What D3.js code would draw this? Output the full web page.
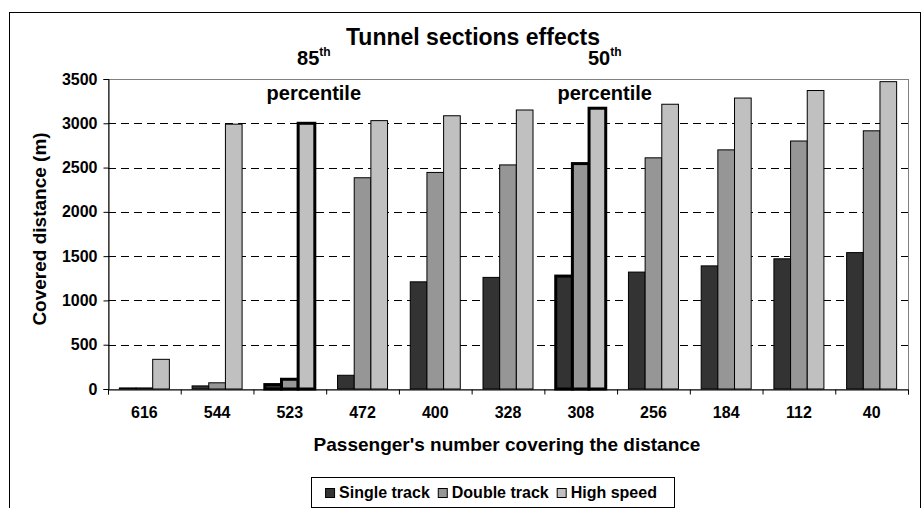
<!DOCTYPE html>
<html>
<head>
<meta charset="utf-8">
<script src="https://cdn.jsdelivr.net/npm/d3@7/dist/d3.min.js"></script>
<style>
  body { margin: 0; background: #fff; }
  text { font-family: "Liberation Sans", Arial, sans-serif; font-weight: bold; fill: #000; }
</style>
</head>
<body>
<div id="chart"></div>
<script>
let categories = ["616", "544", "523", "472", "400", "328", "308", "256", "184", "112", "40"];
let seriesNames = ["Single track", "Double track", "High speed"];
let singleTrack = [12, 35, 50, 155, 1210, 1260, 1275, 1320, 1390, 1470, 1540];
let doubleTrack = [12, 70, 110, 2385, 2445, 2530, 2545, 2610, 2700, 2800, 2915];
let highSpeed = [335, 2990, 3000, 3030, 3085, 3150, 3170, 3215, 3285, 3370, 3470];
let yTickValues = [0, 500, 1000, 1500, 2000, 2500, 3000, 3500];
let highlighted = ["523", "308"];
let annotations = [{cat: "523", num: "85"}, {cat: "308", num: "50"}];

let width = 924;
let height = 508;
let padL = 108, padR = 908, padT = 79, padB = 389;
let barColors = ["#333333", "#969696", "#c0c0c0"];
let series = [singleTrack, doubleTrack, highSpeed];

// Step 1: svg and outer chart border
let svg = d3.select("#chart")
            .append("svg")
            .attr("width", width)
            .attr("height", height);

svg.append("rect")
    .attr("x", 9.5).attr("y", 12.5)
    .attr("width", 911).attr("height", 520)
    .attr("fill", "none")
    .attr("stroke", "#000");

// Step 2: scales
let x0 = d3.scaleBand()
           .domain(categories)
           .range([padL, padR])
           .paddingInner(0.3125)
           .paddingOuter(0.15625);

let x1 = d3.scaleBand()
           .domain(d3.range(series.length))
           .range([0, x0.bandwidth()]);

let yScale = d3.scaleLinear()
               .domain([0, 3500])
               .range([padB, padT]);

let xEdges = d3.scaleLinear()
               .domain([0, categories.length])
               .range([padL, padR]);

// Step 3: plot area border and dashed grid
svg.append("rect")
    .attr("x", padL + 0.5).attr("y", padT + 0.5)
    .attr("width", padR - padL).attr("height", padB - padT)
    .attr("fill", "none")
    .attr("stroke", "#808080");

svg.append("g")
    .selectAll("line")
    .data(yTickValues.filter(d => d > 0))
    .enter().append("line")
    .attr("x1", padL).attr("x2", padR)
    .attr("y1", d => Math.round(yScale(d)) + 0.5)
    .attr("y2", d => Math.round(yScale(d)) + 0.5)
    .attr("stroke", d => d === 3500 ? "#808080" : "#000")
    .attr("stroke-dasharray", "8,5");

// Step 4: bars
let groups = svg.append("g")
    .selectAll("g")
    .data(categories)
    .enter().append("g")
    .attr("transform", d => "translate(" + x0(d) + ",0)");

groups.selectAll("rect")
    .data((c, i) => series.map((s, k) => ({cat: c, k: k, v: s[i]})))
    .enter().append("rect")
    .attr("x", d => x1(d.k))
    .attr("y", d => yScale(d.v))
    .attr("width", x1.bandwidth())
    .attr("height", d => yScale(0) - yScale(d.v))
    .attr("fill", d => barColors[d.k])
    .attr("stroke", "#000")
    .attr("stroke-width", d => highlighted.includes(d.cat) ? 3 : 1);

// Step 5: axes
let yAxis = d3.axisLeft(yScale)
              .tickValues(yTickValues)
              .tickFormat(d3.format("d"))
              .tickSize(5)
              .tickPadding(6);

svg.append("g")
    .attr("transform", "translate(" + (padL + 0.5) + ",0)")
    .call(yAxis)
    .call(g => g.selectAll("text").style("font-size", "16px"));

svg.append("g")
    .attr("transform", "translate(0," + (padB + 0.5) + ")")
    .call(d3.axisBottom(xEdges).ticks(categories.length).tickSize(5).tickFormat(""));

svg.append("g")
    .attr("transform", "translate(0," + (padB + 0.5) + ")")
    .call(d3.axisBottom(x0).tickSize(0).tickPadding(17))
    .call(g => g.select(".domain").remove())
    .call(g => g.selectAll("text").style("font-size", "16px"));

svg.selectAll(".domain").attr("stroke", "#000");

// Step 6: titles
svg.append("text")
    .attr("x", 473).attr("y", 45)
    .attr("text-anchor", "middle")
    .style("font-size", "23px")
    .text("Tunnel sections effects");

svg.append("text")
    .attr("x", 507).attr("y", 451)
    .attr("text-anchor", "middle")
    .style("font-size", "19px")
    .text("Passenger's number covering the distance");

svg.append("text")
    .attr("transform", "translate(46,229) rotate(-90)")
    .attr("text-anchor", "middle")
    .style("font-size", "19px")
    .text("Covered distance (m)");

// Step 7: percentile annotations
annotations.forEach(a => {
  let cx = x0(a.cat) + x0.bandwidth() / 2 + 24;
  let t = svg.append("text")
      .attr("x", cx).attr("y", 65)
      .attr("text-anchor", "middle")
      .style("font-size", "20px");
  t.append("tspan").text(a.num);
  t.append("tspan").attr("dy", -9).style("font-size", "12px").text("th");
  svg.append("text")
      .attr("x", cx).attr("y", 100)
      .attr("text-anchor", "middle")
      .style("font-size", "20px")
      .text("percentile");
});

// Step 8: legend
let legend = svg.append("g");
legend.append("rect")
    .attr("x", 311.5).attr("y", 477.5)
    .attr("width", 363).attr("height", 30)
    .attr("fill", "#fff")
    .attr("stroke", "#000");

let lx = 0;
let items = legend.append("g");
seriesNames.forEach((name, k) => {
  items.append("rect")
      .attr("x", lx + 0.5).attr("y", 488.5)
      .attr("width", 9).attr("height", 9)
      .attr("fill", barColors[k])
      .attr("stroke", "#000");
  let t = items.append("text")
      .attr("x", lx + 14).attr("y", 498)
      .style("font-size", "16px")
      .text(name);
  lx += 14 + t.node().getComputedTextLength() + 8;
});
let itemsW = lx - 8;
items.attr("transform", "translate(" + (491 - itemsW / 2) + ",0)");
</script>
</body>
</html>
